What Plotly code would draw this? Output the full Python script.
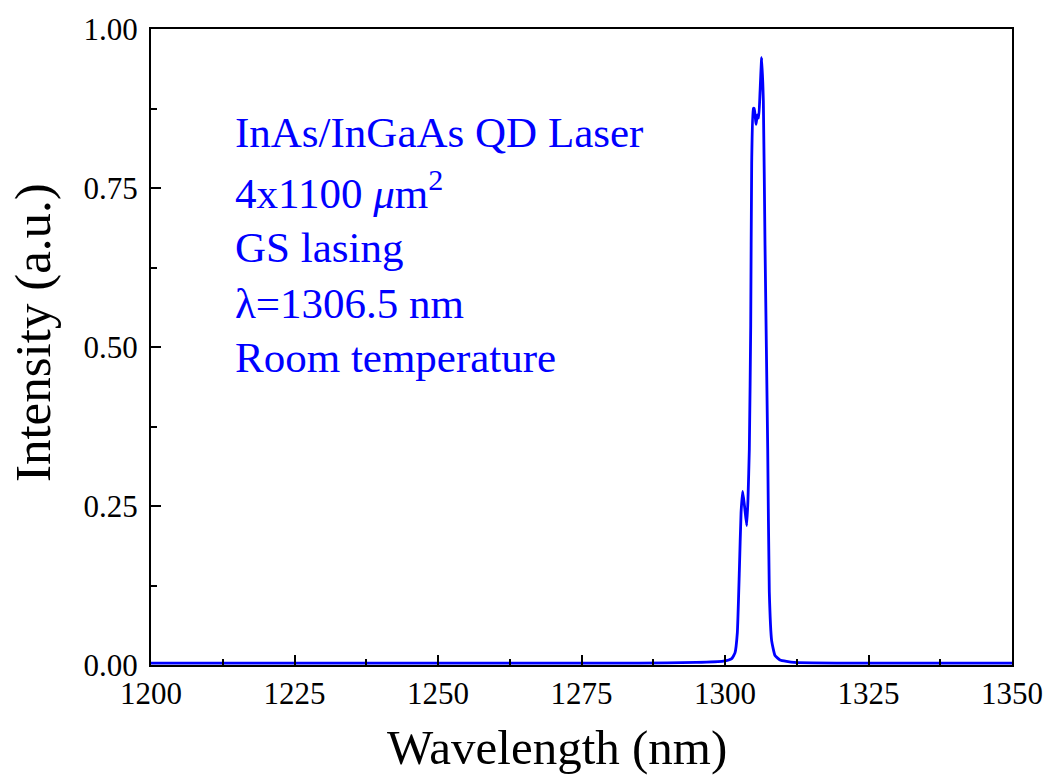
import plotly.graph_objects as go

# Lasing spectrum of the QD laser (wavelength in nm, normalised intensity)
wavelength = [1200.0, 1230.0, 1260.0, 1285.0, 1295.0, 1299.7, 1301.17, 1301.74,
              1302.15, 1302.50, 1302.80, 1303.08, 1303.40, 1303.78, 1304.00,
              1304.24, 1304.48, 1304.65, 1304.93, 1305.10, 1305.40, 1305.63,
              1305.87, 1306.10, 1306.39, 1306.68, 1306.97, 1307.44, 1307.72,
              1308.13, 1308.71, 1309.58, 1312.0, 1320.0, 1335.0, 1350.0]
intensity = [0.003, 0.003, 0.003, 0.003, 0.004, 0.006, 0.010, 0.019,
             0.051, 0.148, 0.240, 0.273, 0.250, 0.219, 0.260,
             0.340, 0.534, 0.790, 0.875, 0.875, 0.850, 0.865,
             0.860, 0.900, 0.955, 0.887, 0.660, 0.340, 0.115,
             0.038, 0.015, 0.008, 0.004, 0.003, 0.003, 0.003]

x_ticks = [1200, 1225, 1250, 1275, 1300, 1325, 1350]
y_ticks = [0.0, 0.25, 0.5, 0.75, 1.0]
y_tick_text = ["0.00", "0.25", "0.50", "0.75", "1.00"]

info_lines = [
    "InAs/InGaAs QD Laser",
    "4x1100 <i>μ</i>m<sup>2</sup>",
    "GS lasing",
    "λ=1306.5 nm",
    "Room temperature",
]

serif = "Liberation Serif, Times New Roman, serif"
blue = "#0000FF"

fig = go.Figure()
fig.add_trace(go.Scatter(
    x=wavelength, y=intensity, mode="lines",
    line=dict(color=blue, width=2.8, shape="spline", smoothing=0.4),
    showlegend=False,
))

axis_common = dict(
    showline=True, linecolor="black", linewidth=2, mirror=True,
    ticks="inside", ticklen=10, tickwidth=2, tickcolor="black",
    showgrid=False, zeroline=False, automargin=False,
    tickfont=dict(family=serif, size=31, color="black"),
)

fig.update_xaxes(
    range=[1200, 1350], tickvals=x_ticks,
    minor=dict(ticks="inside", ticklen=6, tickwidth=2, tickcolor="black", dtick=12.5),
    ticklabelstandoff=0,
    **axis_common,
)
fig.update_yaxes(
    range=[0, 1], tickvals=y_ticks, ticktext=y_tick_text,
    minor=dict(ticks="inside", ticklen=6, tickwidth=2, tickcolor="black", dtick=0.125),
    ticklabelstandoff=5,
    **axis_common,
)

# Axis titles
fig.add_annotation(
    x=0.4715, y=-0.1305, xref="paper", yref="paper", xanchor="center", yanchor="middle",
    text="Wavelength (nm)", showarrow=False,
    font=dict(family=serif, size=49, color="black"),
)
fig.add_annotation(
    x=-0.137, y=0.522, xref="paper", yref="paper", xanchor="center", yanchor="middle",
    text="Intensity (a.u.)", textangle=-90, showarrow=False,
    font=dict(family=serif, size=51, color="black"),
)

line_y = [0.8365, 0.747, 0.656, 0.569, 0.484]
for text, yv in zip(info_lines, line_y):
    fig.add_annotation(
        x=0.0952, y=yv, xref="paper", yref="paper", xanchor="left", yanchor="middle",
        text=text, showarrow=False,
        font=dict(family=serif, size=43, color=blue),
    )

fig.update_layout(
    width=1046, height=776,
    margin=dict(l=151, r=34, t=29, b=111),
    paper_bgcolor="white", plot_bgcolor="white",
)

fig.write_html("out.html")
